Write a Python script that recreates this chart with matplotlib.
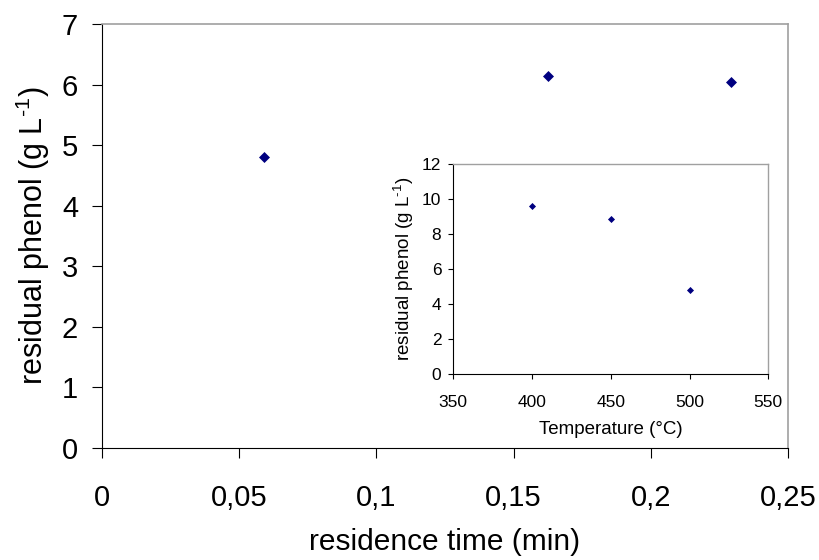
import matplotlib
matplotlib.use("Agg")
import matplotlib.pyplot as plt

plt.rcParams['font.family'] = ['Liberation Sans', 'DejaVu Sans']
plt.rcParams['mathtext.fontset'] = 'custom'
plt.rcParams['mathtext.rm'] = 'Liberation Sans'
plt.rcParams['mathtext.default'] = 'regular'

# Main chart data
residence_time = [0.0592, 0.1624, 0.2291]
phenol_main = [4.81, 6.15, 6.04]
main_xticks = [0, 0.05, 0.10, 0.15, 0.20, 0.25]
main_xticklabels = ["0", "0,05", "0,1", "0,15", "0,2", "0,25"]
main_yticks = [0, 1, 2, 3, 4, 5, 6, 7]

# Inset data
temperature = [400, 450, 500]
phenol_inset = [9.62, 8.84, 4.81]
inset_xticks = [350, 400, 450, 500, 550]
inset_yticks = [0, 2, 4, 6, 8, 10, 12]

marker_color = '#000080'
border_gray = '#a0a0a0'
ylabel_text = r'residual phenol (g L$^{\text{-1}}$)'

fig = plt.figure(figsize=(8.2, 5.6), dpi=100)
ax = fig.add_axes([0.1244, 0.2, 0.8366, 0.757])
ax.scatter(residence_time, phenol_main, marker='D', s=5.6**2, color=marker_color, zorder=3, linewidths=0)
ax.set_xlim(0, 0.25)
ax.set_ylim(0, 7)
ax.set_xticks(main_xticks)
ax.set_xticklabels(main_xticklabels)
ax.set_yticks(main_yticks)
ax.tick_params(axis='both', direction='out', length=7.2, width=0.8, labelsize=21, colors='black')
ax.tick_params(axis='x', pad=19)
ax.tick_params(axis='y', pad=10)
ax.tick_params(top=False, right=False)
for s in ['left', 'bottom']:
    ax.spines[s].set_color('black')
    ax.spines[s].set_linewidth(0.8)
for s in ['top', 'right']:
    ax.spines[s].set_color(border_gray)
    ax.spines[s].set_linewidth(1.2)
ax.set_xlabel('residence time (min)', fontsize=21.5, labelpad=11)
ax.set_ylabel(ylabel_text, fontsize=22, labelpad=7)

ins = fig.add_axes([0.5528, 0.3316, 0.3841, 0.3755])
ins.scatter(temperature, phenol_inset, marker='D', s=3.6**2, color=marker_color, zorder=3, linewidths=0)
ins.set_xlim(350, 550)
ins.set_ylim(0, 12)
ins.set_xticks(inset_xticks)
ins.set_yticks(inset_yticks)
ins.tick_params(axis='both', direction='out', length=3.6, width=0.8, labelsize=12.5, colors='black')
ins.tick_params(axis='x', pad=11)
ins.tick_params(axis='y', pad=5)
for s in ['left', 'bottom']:
    ins.spines[s].set_color('black')
    ins.spines[s].set_linewidth(0.8)
for s in ['top', 'right']:
    ins.spines[s].set_color(border_gray)
    ins.spines[s].set_linewidth(1.0)
ins.set_xlabel('Temperature (°C)', fontsize=13.5, labelpad=8)
ins.set_ylabel(ylabel_text, fontsize=13.5, labelpad=4)

fig.savefig('out.png', dpi=100)
